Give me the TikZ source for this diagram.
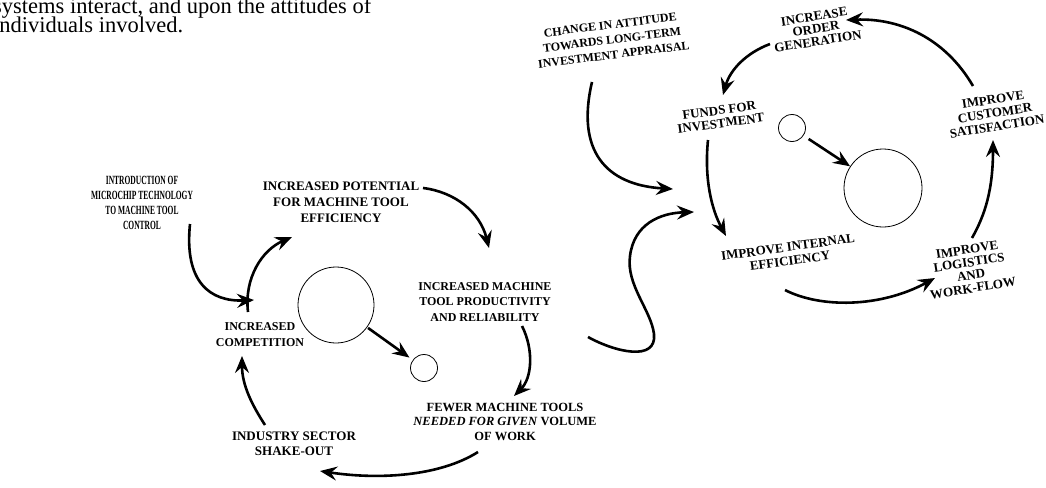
\documentclass[tikz,border=0pt]{standalone}
\usepackage{fontspec}
\usepackage{graphicx}
\setmainfont{Liberation Serif}
\usetikzlibrary{arrows.meta}
\begin{document}
\begin{tikzpicture}[x=1pt,y=-1pt,
  lbl/.style={font=\fontsize{13}{15}\selectfont\bfseries, align=center, inner sep=0pt},
  flow/.style={line width=2.6pt, -{Stealth[length=17pt,width=14pt,inset=6pt]}},
  ring/.style={draw, circle, line width=0.8pt, inner sep=0pt},
  para/.style={anchor=base west, inner sep=0pt, font=\fontsize{22.5}{20}\selectfont}]
\useasboundingbox (0,0) rectangle (1046,487);

% running text above the figure
\node[para] (para1) at (-7,14) {systems interact, and upon the attitudes of};
\node[para] (para2) at (-7,33) {individuals involved.};

% ---------- left loop ----------
\node[inner sep=0pt, font=\fontsize{12.5}{15}\selectfont\bfseries] (intro) at (142,203.5)
  {\scalebox{0.6}[1]{\begin{tabular}{@{}c@{}}INTRODUCTION OF\\MICROCHIP TECHNOLOGY\\TO MACHINE TOOL\\CONTROL\end{tabular}}};
\node[lbl, font=\fontsize{13}{16}\selectfont\bfseries] (potential) at (341,202) {INCREASED POTENTIAL\\FOR MACHINE TOOL\\EFFICIENCY};
\node[lbl, font=\fontsize{12}{15.5}\selectfont\bfseries] (product) at (485,302) {INCREASED MACHINE\\TOOL PRODUCTIVITY\\AND RELIABILITY};
\node[lbl, font=\fontsize{12}{16}\selectfont\bfseries] (compet) at (260,335) {INCREASED\\COMPETITION};
\node[lbl, font=\fontsize{12.5}{14.5}\selectfont\bfseries] (fewer) at (505,421.5) {FEWER MACHINE TOOLS\\\textit{NEEDED FOR GIVEN} VOLUME\\OF WORK};
\node[lbl] (industry) at (294,444) {INDUSTRY SECTOR\\SHAKE-OUT};

\node[ring, minimum size=76pt] (bigL) at (336,305) {};
\node[ring, minimum size=27pt] (smallL) at (424,368) {};

\coordinate (a1s) at (190,224);  \coordinate (a1e) at (254,300);
\coordinate (a2s) at (248,312);  \coordinate (a2e) at (292,237);
\coordinate (a3s) at (423,188);  \coordinate (a3e) at (489,248);
\coordinate (a4s) at (522,326);  \coordinate (a4e) at (514,396);
\coordinate (a5s) at (478,452);  \coordinate (a5e) at (320,471);
\coordinate (a6s) at (265,425);  \coordinate (a6e) at (242,356);

\draw[flow] (a1s) .. controls (184,282) and (210,302) .. (a1e);
\draw[flow] (a2s) .. controls (244,278) and (262,250) .. (a2e);
\draw[flow] (a3s) .. controls (455,192) and (480,212) .. (a3e);
\draw[flow] (a4s) .. controls (534,350) and (532,378) .. (a4e);
\draw[flow] (a5s) .. controls (440,476) and (380,480) .. (a5e);
\draw[flow] (a6s) .. controls (252,405) and (242,385) .. (a6e);
\draw[flow, shorten <=1pt, shorten >=4pt] (bigL) -- (smallL);

% link between the two loops
\coordinate (ws) at (588,337);  \coordinate (we) at (694,212);
\draw[flow] (ws) .. controls (615,352) and (657,362) .. (654,334)
  .. controls (651,310) and (626,285) .. (630,256)
  .. controls (634,224) and (660,213) .. (we);

% ---------- right loop ----------
\node[lbl, rotate=7, font=\fontsize{12}{15}\selectfont\bfseries] (change) at (612,40) {CHANGE IN ATTITUDE\\TOWARDS LONG-TERM\\INVESTMENT APPRAISAL};
\node[lbl, rotate=9, font=\fontsize{13}{12.5}\selectfont\bfseries] (order) at (816,29) {INCREASE\\ORDER\\GENERATION};
\node[lbl, rotate=8, font=\fontsize{13}{13}\selectfont\bfseries] (funds) at (720,117) {FUNDS FOR\\INVESTMENT};
\node[lbl, rotate=9, font=\fontsize{13}{13.5}\selectfont\bfseries] (customer) at (995,113) {IMPROVE\\CUSTOMER\\SATISFACTION};
\node[lbl, rotate=8, font=\fontsize{13}{14}\selectfont\bfseries] (internal) at (789,254) {IMPROVE INTERNAL\\EFFICIENCY};
\node[lbl, rotate=9, font=\fontsize{13}{13}\selectfont\bfseries] (logist) at (970,269) {IMPROVE\\LOGISTICS\\AND\\WORK-FLOW};

\node[ring, minimum size=27pt] (smallR) at (792,128) {};
\node[ring, minimum size=78pt] (bigR) at (883,188) {};

\coordinate (b1s) at (592,82);   \coordinate (b1e) at (673,189);
\coordinate (b2s) at (708,140);  \coordinate (b2e) at (726,236);
\coordinate (b3s) at (770,44);   \coordinate (b3e) at (723,95);
\coordinate (b4s) at (973,86);   \coordinate (b4e) at (846,20);
\coordinate (b5s) at (972,238);  \coordinate (b5e) at (993,140);
\coordinate (b6s) at (785,290);  \coordinate (b6e) at (935,278);

\draw[flow] (b1s) .. controls (576,150) and (605,185) .. (b1e);
\draw[flow] (b2s) .. controls (704,180) and (712,210) .. (b2e);
\draw[flow] (b3s) .. controls (746,53) and (730,70) .. (b3e);
\draw[flow] (b4s) .. controls (945,38) and (900,18) .. (b4e);
\draw[flow] (b5s) .. controls (985,215) and (993,190) .. (b5e);
\draw[flow] (b6s) .. controls (820,308) and (880,308) .. (b6e);
\draw[flow, shorten <=6pt] (smallR) -- (bigR);
\end{tikzpicture}
\end{document}
